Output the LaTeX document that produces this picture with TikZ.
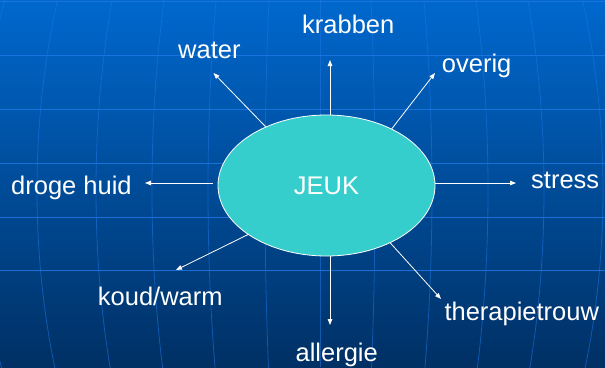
\documentclass[tikz,border=0pt]{standalone}
\usepackage{fontspec}
\setmainfont{Liberation Sans}
\usetikzlibrary{shapes.geometric,arrows.meta}
\definecolor{bgtop}{RGB}{0,104,206}
\definecolor{bgbot}{RGB}{0,48,100}
\definecolor{gridc}{RGB}{30,118,228}
\definecolor{jeukfill}{RGB}{54,206,204}
\begin{document}
\begin{tikzpicture}[x=1pt,y=-1pt,
  lbl/.style={text=white,font=\fontsize{25.5}{30}\selectfont,anchor=base west,inner sep=0pt},
  arr/.style={white,line width=0.8pt,-{Triangle[length=6pt,width=4.5pt]}},
  hgrid/.style={gridc,line width=1pt,opacity=0.85},
  vgrid/.style={gridc,line width=0.8pt,opacity=0.55}]
\useasboundingbox (0,0) rectangle (605,367);
\shade[top color=bgtop,bottom color=bgbot] (0,0) rectangle (605,367);
\begin{scope}
  \clip (0,0) rectangle (605,367);
  \foreach \yy in {1,55,109,163,217,270} \draw[hgrid] (0,\yy) -- (605,\yy);
  \draw[vgrid] (320,0) -- (320,367);
  \foreach \dd in {55,112,168,224,283,340} \draw[vgrid] (320,190) ellipse [x radius=\dd, y radius=507];
\end{scope}
\node[ellipse,fill=jeukfill,draw=white,line width=0.8pt,minimum width=217pt,minimum height=141pt,inner sep=0pt,text=white,font=\fontsize{25.5}{30}\selectfont] (jeuk) at (326.5,185.5) {JEUK};
\node[lbl] (krabben) at (302,33.3) {krabben};
\node[lbl] (water) at (178,58.3) {water};
\node[lbl] (overig) at (441.7,72) {overig};
\node[lbl] (droge) at (11,194.3) {droge huid};
\node[lbl] (stress) at (531,188) {stress};
\node[lbl] (koud) at (97.7,305.7) {koud/warm};
\node[lbl] (therapie) at (444.3,320) {therapietrouw};
\node[lbl] (allergie) at (295.4,361.7) {allergie};
\coordinate (eup) at (330,60);
\coordinate (ewater) at (213.5,73);
\coordinate (eoverig) at (435,73);
\coordinate (eleft) at (145,183);
\coordinate (eright) at (516,183);
\coordinate (ekoud) at (176,270);
\coordinate (edown) at (330,325);
\coordinate (etherapie) at (441,299);
\draw[arr] (jeuk.north -| eup) -- (eup);
\draw[arr] (jeuk.south -| edown) -- (edown);
\draw[arr,shorten <=5pt] (jeuk.west |- eleft) -- (eleft);
\draw[arr] (jeuk.east |- eright) -- (eright);
\draw[arr] (jeuk.136) -- (ewater);
\draw[arr] (jeuk.41) -- (eoverig);
\draw[arr] (jeuk.212) -- (ekoud);
\draw[arr] (jeuk.-42) -- (etherapie);
\end{tikzpicture}
\end{document}
